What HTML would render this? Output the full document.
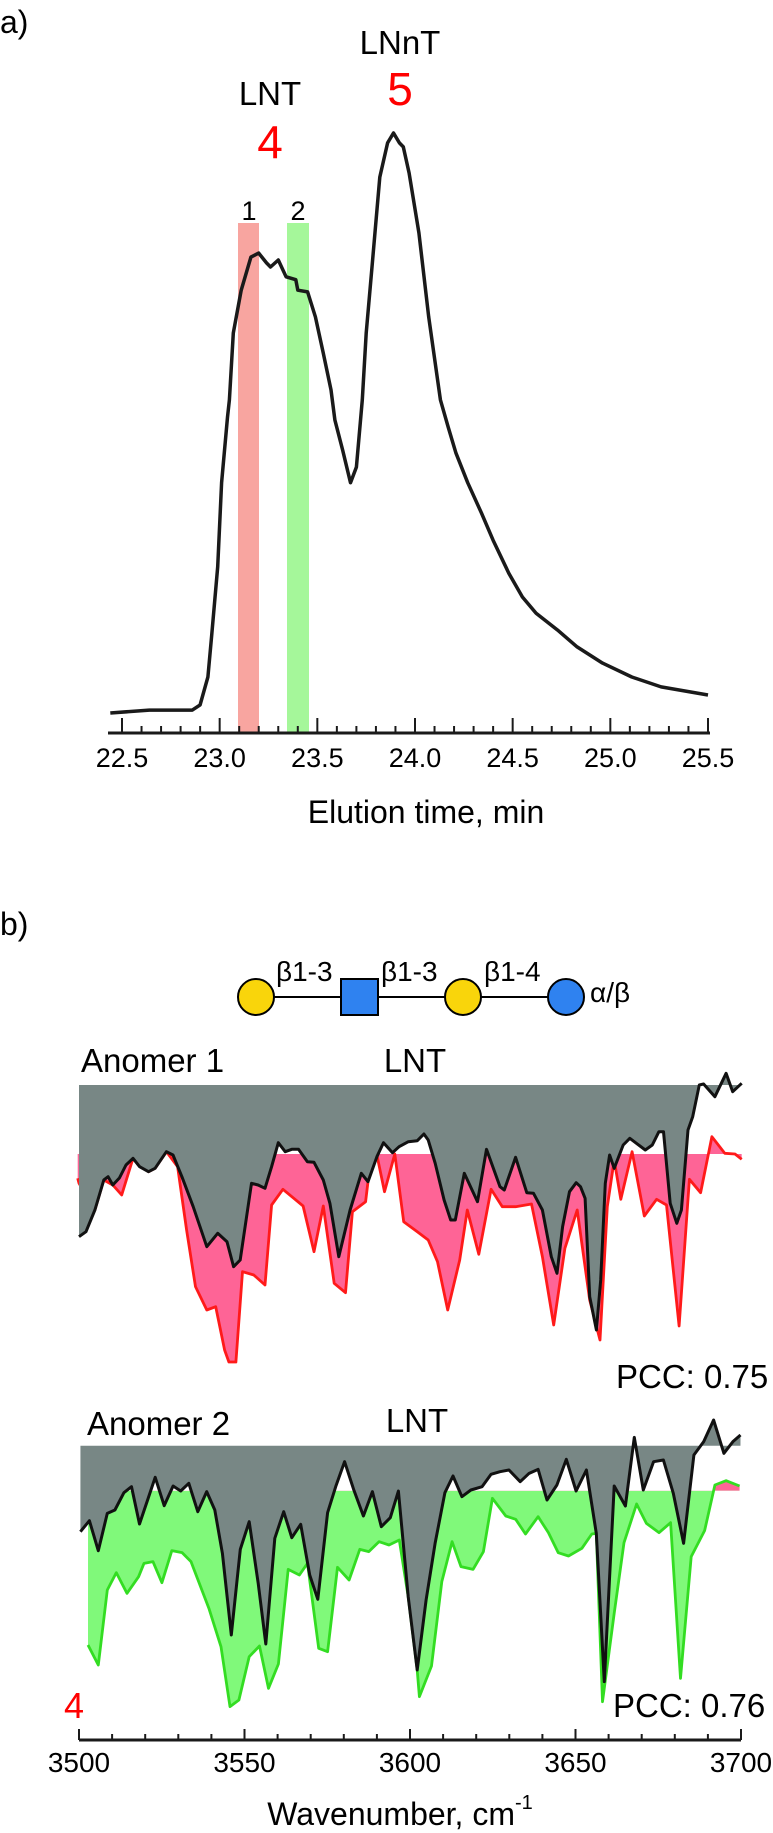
<!DOCTYPE html>
<html><head><meta charset="utf-8"><style>
html,body{margin:0;padding:0;background:#fff}
svg{display:block;font-family:"Liberation Sans",Arial,sans-serif}
</style></head><body>
<svg id="fig" width="773" height="1833" viewBox="0 0 773 1833" xmlns="http://www.w3.org/2000/svg">
<text x="0" y="33" font-size="32">a)</text>
<rect x="238" y="223" width="21" height="510" fill="#f8a5a0"/>
<rect x="287" y="223" width="22" height="510" fill="#a5f79a"/>
<text x="249" y="220" font-size="27" text-anchor="middle">1</text>
<text x="298" y="220" font-size="27" text-anchor="middle">2</text>
<text x="270" y="105" font-size="33" text-anchor="middle">LNT</text>
<text x="270" y="158" font-size="46" fill="#f00" text-anchor="middle">4</text>
<text x="400" y="54" font-size="33" text-anchor="middle">LNnT</text>
<text x="400" y="105" font-size="46" fill="#f00" text-anchor="middle">5</text>
<g id="chromA"></g>
<text x="426" y="823" font-size="32" text-anchor="middle">Elution time, min</text>

<text x="0" y="935" font-size="32">b)</text>
<g>
<line x1="256" y1="997" x2="566" y2="997" stroke="#000" stroke-width="2"/>
<circle cx="256" cy="997" r="18" fill="#f9d50b" stroke="#000" stroke-width="2"/>
<rect x="341" y="979" width="37" height="36" fill="#2f82f0" stroke="#000" stroke-width="2"/>
<circle cx="463" cy="997" r="18" fill="#f9d50b" stroke="#000" stroke-width="2"/>
<circle cx="566" cy="997" r="18" fill="#2f82f0" stroke="#000" stroke-width="2"/>
<text x="276" y="981" font-size="28">β1-3</text>
<text x="381" y="981" font-size="28">β1-3</text>
<text x="484" y="981" font-size="28">β1-4</text>
<text x="590" y="1002" font-size="28">α/β</text>
</g>
<text x="81" y="1072" font-size="33">Anomer 1</text>
<text x="415" y="1072" font-size="33" text-anchor="middle">LNT</text>
<g id="spec1"></g>
<text x="616" y="1388" font-size="33">PCC: 0.75</text>
<text x="87" y="1435" font-size="33">Anomer 2</text>
<text x="417" y="1432" font-size="33" text-anchor="middle">LNT</text>
<g id="spec2"></g>
<text x="613" y="1717" font-size="33">PCC: 0.76</text>
<text x="64" y="1718" font-size="36" fill="#f00">4</text>
<g id="axisB"></g>
<text x="400" y="1825" font-size="32" text-anchor="middle">Wavenumber, cm<tspan font-size="20" dy="-16">-1</tspan></text>
</svg>
<script>
const chromTime=[22.44,22.64,22.86,22.90,22.94,22.96,22.99,23.01,23.04,23.05,23.07,23.11,23.16,23.20,23.24,23.26,23.30,23.34,23.39,23.40,23.45,23.49,23.53,23.57,23.59,23.63,23.67,23.70,23.73,23.75,23.78,23.82,23.86,23.89,23.92,23.94,23.97,24.02,24.07,24.13,24.17,24.21,24.27,24.34,24.40,24.48,24.55,24.62,24.73,24.83,24.96,25.11,25.26,25.50];
const chromIntensity=[0,0.5,0.5,1.4,6.2,13.8,25.2,39.7,51.0,54.0,65.5,72.9,78.6,79.3,77.6,76.9,78.1,75.2,74.7,72.9,72.6,68.3,62.1,55.7,50.5,45.3,39.7,42.4,54.0,65.5,76.9,92.4,98.3,100,98.3,97.6,93.1,82.8,68.3,54.0,49.3,44.8,39.7,34.5,29.8,24.1,20.0,17.2,14.3,11.4,8.6,6.2,4.5,3.1];
const chromTicks=["22.5","23.0","23.5","24.0","24.5","25.0","25.5"];

const calc1Wn=[3500.0,3502.1,3504.8,3507.5,3508.8,3510.2,3512.2,3514.2,3516.3,3518.3,3521.0,3523.0,3526.4,3528.4,3531.1,3534.5,3538.6,3541.9,3544.7,3546.7,3548.7,3552.1,3554.1,3556.2,3558.2,3560.2,3562.3,3564.3,3566.3,3569.0,3571.0,3573.8,3575.8,3578.5,3581.9,3585.3,3587.3,3590.0,3592.0,3594.7,3596.7,3599.5,3602.2,3604.2,3605.5,3607.6,3610.3,3612.3,3613.7,3616.4,3620.4,3623.1,3627.2,3628.5,3631.9,3635.3,3637.3,3640.0,3642.7,3644.4,3646.1,3648.2,3650.2,3651.5,3652.9,3654.3,3656.3,3657.6,3659.0,3660.3,3661.7,3664.4,3666.4,3668.4,3671.1,3673.2,3675.2,3676.6,3678.6,3680.6,3682.0,3684.0,3685.4,3687.4,3688.7,3692.1,3695.5,3697.5,3700.2];
const calc1Y=[1236.7,1231.7,1210,1180,1176.7,1185,1178,1165,1158.3,1166.7,1171.7,1168.3,1151.7,1155,1176.7,1206.7,1246.7,1233.3,1241.7,1266.7,1260,1183.3,1185,1188.3,1166.7,1142.7,1151.7,1149.3,1149.3,1161.7,1162.3,1180,1203.3,1256.7,1210,1173.3,1181.7,1156.7,1142.7,1152.7,1146.7,1141.7,1140.7,1134,1140,1163.3,1200,1220,1220,1173.3,1201.7,1149.3,1186.7,1190,1157.3,1192.7,1193.3,1210,1256.7,1273.3,1226.7,1191.7,1182.7,1186.7,1198.3,1296.7,1330,1280,1183.3,1155,1168.3,1145,1138.3,1143.3,1150,1145,1131.7,1131.7,1203.3,1223.3,1210,1130,1116.7,1085,1084,1096.7,1073.3,1091.7,1083.3];
const exp1Wn=[3499.6,3500,3504.8,3507.5,3510.2,3512.9,3516.3,3521.0,3523.0,3526.4,3529.8,3532.5,3535.2,3538.6,3541.3,3544.0,3545.3,3547.4,3549.4,3552.8,3556.2,3558.2,3561.6,3564.9,3567.7,3571.0,3573.8,3577.1,3580.5,3582.6,3586.6,3587.6,3590.0,3592.3,3595.4,3598.1,3602.2,3605.5,3608.3,3611.4,3615.0,3617.3,3620.8,3624.5,3627.9,3631.9,3636.7,3640.0,3643.4,3646.8,3650.5,3654.3,3657.4,3659.6,3661.7,3663.7,3667.1,3670.8,3674.5,3677.5,3681.3,3684.4,3687.8,3691.2,3695.1,3698.2,3700.2];
const exp1Y=[1178.3,1183.3,1210,1180,1185,1195,1158.3,1171.7,1168.3,1151.7,1166.7,1230,1286.7,1310,1306.7,1350,1362,1362,1271.7,1275,1285,1205,1189.3,1198.3,1206,1251.7,1206,1283.3,1292.7,1211.7,1201.7,1173.3,1155,1191.7,1154,1221.7,1231.7,1240,1261.7,1310,1260,1210,1254.3,1189.3,1206.7,1206.7,1204,1256.7,1325,1248.3,1210,1300,1340,1206.7,1160,1199.3,1151.7,1216,1199.3,1205,1326,1179.3,1192.7,1136.7,1153.3,1154,1159.3];

const calc2Zx=[48,68,88,108,125,145,162,180,198,215,235,255,272,290,310,330,348,365,385,405,425,445,462,482,502,520,540,560,578,600,618,638,658,680,700,720,740,758,780,800,820,840,862,880,900,920,945,965,985,1005,1030,1050,1070,1090,1112,1133,1155,1178,1200,1218,1240,1265,1285,1305,1328,1350,1372,1395,1418,1440,1462,1485,1505,1522];
const calc2Zy=[515,482,572,460,450,398,380,492,420,352,437,378,393,370,455,395,450,580,825,568,485,670,852,535,455,533,493,645,718,458,380,305,388,468,395,500,473,393,710,930,720,550,398,348,410,390,380,343,335,330,365,340,328,420,375,298,393,330,520,965,378,438,232,390,305,300,400,550,285,245,180,280,245,225];
const exp2Zx=[65,88,108,128,152,178,190,210,230,252,275,295,335,362,382,402,425,448,468,490,512,537,555,580,600,622,648,672,692,715,737,760,780,800,805,832,855,878,898,925,948,968,998,1020,1042,1070,1093,1115,1138,1168,1190,1200,1214,1240,1262,1290,1312,1340,1366,1388,1412,1442,1465,1490,1520];
const exp2Zy=[855,915,690,638,700,650,610,605,668,572,578,605,745,860,1040,1020,890,858,985,912,628,645,610,865,875,622,660,568,575,545,555,540,710,930,1010,918,665,545,620,628,575,415,468,478,522,470,518,578,588,565,522,520,1025,760,548,432,490,518,488,955,590,512,375,362,378];

const NS="http://www.w3.org/2000/svg";
function mk(tag,attrs,parent){const e=document.createElementNS(NS,tag);for(const k in attrs)e.setAttribute(k,attrs[k]);parent.appendChild(e);return e;}

// ---- Panel a
const ga=document.getElementById('chromA');
const tx=t=>122+(t-22.5)*195.33;
const ty=v=>713-v*5.8;
let d='';chromTime.forEach((t,i)=>{d+=(i?'L':'M')+tx(t).toFixed(1)+' '+ty(chromIntensity[i]).toFixed(1);});
const cl=mk('path',{d:d,fill:'none',stroke:'#1a1a1a','stroke-width':3.5,'stroke-linejoin':'round'},ga);


const axA=mk('line',{x1:108,y1:733,x2:710,y2:733,stroke:'#1a1a1a','stroke-width':3},ga);


for(let i=0;i<=30;i++){const t=22.5+i*0.1;const major=i%5===0;
 const tk=mk('line',{x1:tx(t),x2:tx(t),y1:major?718:726,y2:733,stroke:'#1a1a1a','stroke-width':2},ga);
 
 }
chromTicks.forEach((s,i)=>{const lb=mk('text',{x:tx(parseFloat(s)),y:767,'font-size':27,'text-anchor':'middle'},ga);lb.textContent=s;
 
 });

// ---- Panel b
const wx=w=>79+(w-3500)*3.31;
function drawSpec(g,wnB,yB,wnE,yE,topY,baseY,fillCol,lineCol,id){
 const x0=wx(wnE[0]),x1=wx(wnE[wnE.length-1]);
 const defs=mk('defs',{},g);
 const c1=mk('clipPath',{id:id+'below'},defs);mk('rect',{x:0,y:baseY,width:773,height:500},c1);
 const c2=mk('clipPath',{id:id+'above'},defs);mk('rect',{x:0,y:baseY-200,width:773,height:200},c2);
 let pe='M'+x0+' '+baseY;wnE.forEach((w,i)=>{pe+='L'+wx(w).toFixed(1)+' '+yE[i];});pe+='L'+x1+' '+baseY+'Z';
 const f1=mk('path',{d:pe,fill:fillCol,'clip-path':'url(#'+id+'below)'},g);
 
 
 const f2=mk('path',{d:pe,fill:'#fe6496','clip-path':'url(#'+id+'above)'},g);
 
 
 let le='';wnE.forEach((w,i)=>{le+=(i?'L':'M')+wx(w).toFixed(1)+' '+yE[i];});
 const l1=mk('path',{d:le,fill:'none',stroke:lineCol,'stroke-width':2.8,'stroke-linejoin':'round'},g);
 
 
 const bx0=wx(wnB[0]),bx1=wx(wnB[wnB.length-1]);
 let pb='M'+bx0+' '+topY;wnB.forEach((w,i)=>{pb+='L'+wx(w).toFixed(1)+' '+yB[i];});pb+='L'+bx1+' '+topY+'Z';
 const f3=mk('path',{d:pb,fill:'#788785'},g);
 
 
 let lb='';wnB.forEach((w,i)=>{lb+=(i?'L':'M')+wx(w).toFixed(1)+' '+yB[i];});
 const l2=mk('path',{d:lb,fill:'none',stroke:'#111','stroke-width':3,'stroke-linejoin':'round'},g);
 
 
}
(function(){
 const g=document.getElementById('spec1');
 drawSpec(g,calc1Wn,calc1Y,exp1Wn,exp1Y,1085,1154,'#fe6496','#ff1a1a','s1');
})();
const zw=zx=>3500+(zx-44.8)/7.392, zy2=zy=>1360+zy/3;
(function(){
 const g=document.getElementById('spec2');
 drawSpec(g,calc2Zx.map(zw),calc2Zy.map(zy2),exp2Zx.map(zw),exp2Zy.map(zy2),1445.7,1490.7,'#80f97a','#33dd22','s2');
})();
const ab=document.getElementById('axisB');
const axl=mk('line',{x1:79,y1:1740,x2:741,y2:1740,stroke:'#1a1a1a','stroke-width':3},ab);


for(let w=3500;w<=3700;w+=10){const major=w%50===0;
 const tk=mk('line',{x1:wx(w),x2:wx(w),y1:major?1729:1734,y2:1740,stroke:'#1a1a1a','stroke-width':2},ab);
 
 }
["3500","3550","3600","3650","3700"].forEach(s=>{const lb=mk('text',{x:wx(+s),y:1772,'font-size':28,'text-anchor':'middle'},ab);lb.textContent=s;
 
 });
</script>
</body></html>
